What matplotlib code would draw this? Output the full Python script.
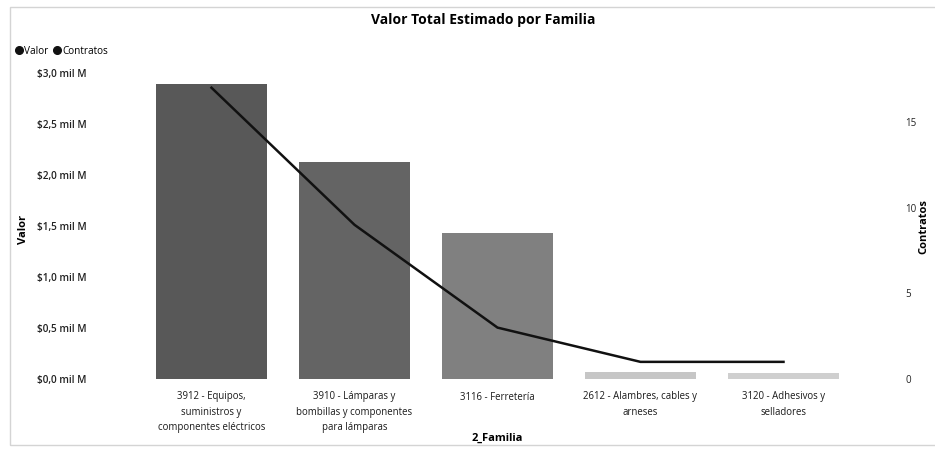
import matplotlib.pyplot as plt
import numpy as np
from matplotlib.lines import Line2D
from matplotlib.patches import Rectangle

plt.rcParams['font.family'] = ['Open Sans', 'DejaVu Sans']

# data
familias = ["3912 - Equipos,\nsuministros y\ncomponentes eléctricos",
            "3910 - Lámparas y\nbombillas y componentes\npara lámparas",
            "3116 - Ferretería",
            "2612 - Alambres, cables y\narneses",
            "3120 - Adhesivos y\nselladores"]
valor = [2.89, 2.13, 1.43, 0.07, 0.06]   # mil M
contratos = [17, 9, 3, 1, 1]
bar_colors = ["#585858", "#646464", "#808080", "#c6c6c6", "#cfcfcf"]
valor_ticks = [0, 0.5, 1.0, 1.5, 2.0, 2.5, 3.0]
contratos_ticks = [0, 5, 10, 15]

fig = plt.figure(figsize=(9.35, 4.49), dpi=100)
ax = fig.add_axes([140/935, 70/449, 715/935, 306/449])
x = np.arange(len(familias))

ax.bar(x, valor, width=0.78, color=bar_colors, zorder=2)
ax.set_xlim(-0.5, len(familias) - 0.5)
ax.set_ylim(0, 3.0)
ax.set_yticks(valor_ticks)
ax.tick_params(axis='y', length=0, pad=74, labelsize=7.2, labelcolor='#222222')
ax.set_yticklabels([("$%.1f mil M" % v).replace('.', ',') for v in valor_ticks],
                   ha='left', fontweight='semibold')
ax.set_xticks(x)
ax.set_xticklabels(familias, fontsize=6.9, linespacing=1.55, color='#1a1a1a',
                   fontweight='medium')
ax.tick_params(axis='x', length=0, pad=9)

ax.set_ylabel("Valor", fontsize=8, fontweight='bold')
ax.yaxis.set_label_coords(-0.155, 0.49)
ax.set_xlabel("2_Familia", fontsize=8, fontweight='bold')
ax.xaxis.set_label_coords(0.5, -0.195)
ax.xaxis.label.set_va('center')

for s in ax.spines.values():
    s.set_visible(False)

ax2 = ax.twinx()
ax2.plot(x, contratos, color='#111111', lw=1.8, zorder=3)
ax2.set_ylim(0, 17.86)
ax2.set_yticks(contratos_ticks)
ax2.tick_params(axis='y', length=0, pad=36, labelsize=7, labelcolor='#222222')
for lab in ax2.get_yticklabels():
    lab.set_horizontalalignment('left')
ax2.set_ylabel("Contratos", fontsize=8, fontweight='bold', rotation=90)
ax2.yaxis.set_label_coords(1.088, 0.497)
for s in ax2.spines.values():
    s.set_visible(False)

fig.text(483/935, 1 - 20/449, "Valor Total Estimado por Familia",
         ha='center', va='center', fontsize=10, fontweight='bold')

handles = [Line2D([], [], marker='o', ls='', color='#111111', markersize=5.5),
           Line2D([], [], marker='o', ls='', color='#111111', markersize=5.5)]
fig.legend(handles, ["Valor", "Contratos"], loc='center left',
           bbox_to_anchor=(10/935, 1 - 51/449), ncol=2, frameon=False,
           fontsize=7.2, handletextpad=0.1, columnspacing=0.5,
           handlelength=0.8, borderpad=0)

fig.patches.append(Rectangle((10/935, 4/449), 940/935, 438/449,
                             transform=fig.transFigure, fill=False,
                             edgecolor='#d4d4d4', lw=1))

fig.savefig("out.png", dpi=100)
